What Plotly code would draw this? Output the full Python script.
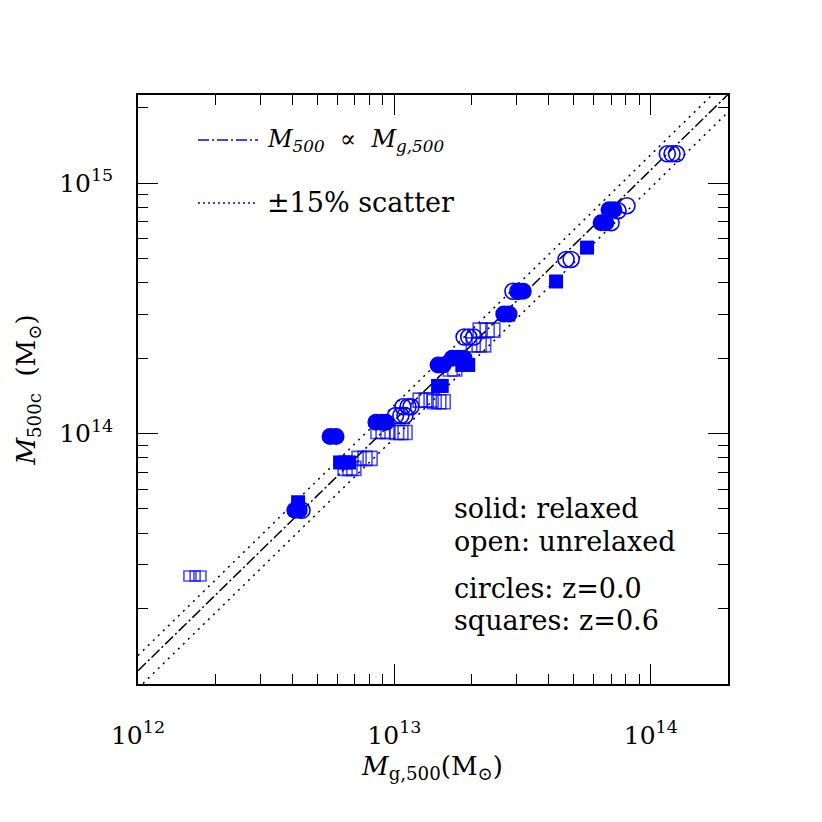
import plotly.graph_objects as go
import math

# ---------------- data ----------------
# relaxed, z=0 (filled circles)
fc_x = [4.09e12, 4.25e12, 5.61e12, 5.92e12, 8.47e12, 8.95e12, 9.28e12,
        1.48e13, 1.55e13, 1.68e13, 1.77e13, 1.87e13, 2.67e13, 2.80e13,
        3.06e13, 3.18e13, 6.40e13, 6.68e13, 6.87e13, 7.18e13]
fc_y = [4.94e13, 4.94e13, 9.73e13, 9.73e13, 1.11e14, 1.11e14, 1.11e14,
        1.88e14, 1.88e14, 2.0e14, 2.0e14, 2.0e14, 3.0e14, 3.0e14,
        3.70e14, 3.70e14, 6.95e14, 6.95e14, 7.83e14, 7.83e14]

# unrelaxed, z=0 (open circles)
oc_x = [4.36e12, 1.08e13, 1.13e13, 1.16e13, 1.01e13, 1.06e13, 1.10e13,
        1.87e13, 1.95e13, 2.04e13, 2.90e13, 3.03e13, 4.67e13, 4.89e13,
        7.0e13, 7.45e13, 8.07e13, 1.16e14, 1.21e14, 1.26e14]
oc_y = [4.94e13, 1.28e14, 1.28e14, 1.28e14, 1.18e14, 1.18e14, 1.18e14,
        2.43e14, 2.43e14, 2.43e14, 3.70e14, 3.70e14, 4.96e14, 4.96e14,
        6.95e14, 7.76e14, 8.13e14, 1.31e15, 1.31e15, 1.31e15]

# relaxed, z=0.6 (filled squares)
fs_x = [4.21e12, 6.14e12, 6.42e12, 6.65e12, 1.48e13, 1.53e13,
        1.84e13, 1.94e13, 4.27e13, 5.64e13]
fs_y = [5.32e13, 7.67e13, 7.67e13, 7.67e13, 1.55e14, 1.55e14,
        1.88e14, 1.88e14, 4.05e14, 5.53e14]

# unrelaxed, z=0.6 (open squares)
os_x = [1.58e12, 1.67e12, 1.76e12, 6.42e12, 6.71e12, 6.95e12,
        7.28e12, 7.68e12, 8.04e12, 8.63e12, 9.03e12, 9.44e12,
        1.02e13, 1.06e13, 1.10e13, 1.26e13, 1.33e13, 1.39e13,
        1.43e13, 1.49e13, 1.55e13, 1.65e13, 1.72e13,
        2.03e13, 2.14e13, 2.23e13, 2.16e13, 2.30e13, 2.42e13]
os_y = [2.70e13, 2.70e13, 2.70e13, 7.26e13, 7.26e13, 7.26e13,
        7.96e13, 7.96e13, 7.96e13, 1.02e14, 1.02e14, 1.02e14,
        1.01e14, 1.01e14, 1.01e14, 1.36e14, 1.36e14, 1.36e14,
        1.34e14, 1.34e14, 1.34e14, 1.81e14, 1.81e14,
        2.26e14, 2.26e14, 2.26e14, 2.59e14, 2.59e14, 2.59e14]

# relation M500 = RATIO * Mg,500 with +-15% scatter
RATIO = 11.3
SCATTER = 0.15

X_RANGE = [1e12, 2e14]
Y_RANGE = [1.0e13, 2.25e15]

x_major = [1e12, 1e13, 1e14]
x_major_text = ["10<sup>12</sup>", "10<sup>13</sup>", "10<sup>14</sup>"]
y_major = [1e14, 1e15]
y_major_text = ["10<sup>14</sup>", "10<sup>15</sup>"]

x_title = "<i>M</i><sub>g,500</sub>(M<sub>\u2299</sub>)"
y_title = "<i>M</i><sub>500c</sub>\u00a0\u00a0(M<sub>\u2299</sub>)"
legend_labels = ["<i>M</i><sub><i>500</i></sub>\u00a0\u00a0\u221d\u00a0\u00a0<i>M</i><sub><i>g,500</i></sub>",
                 "\u00b115% scatter"]
notes = ["solid: relaxed", "open: unrelaxed", "circles: z=0.0", "squares: z=0.6"]

# ---------------- figure ----------------
BLUE = "#0000ff"
FONT = "DejaVu Serif"


def minors(lo, hi):
    out = []
    d = 10 ** math.floor(math.log10(lo))
    while d <= hi:
        for k in range(2, 10):
            v = k * d
            if lo < v <= hi * 1.0001:
                out.append(v)
        d *= 10
    return out


fig = go.Figure()

lx = X_RANGE
fig.add_trace(go.Scatter(x=lx, y=[RATIO * v * (1 + SCATTER) for v in lx], mode="lines",
                         line=dict(color="black", width=1.5, dash="2px,5px"), showlegend=False))
fig.add_trace(go.Scatter(x=lx, y=[RATIO * v * (1 - SCATTER) for v in lx], mode="lines",
                         line=dict(color="black", width=1.5, dash="2px,5px"), showlegend=False))
fig.add_trace(go.Scatter(x=lx, y=[RATIO * v for v in lx], mode="lines",
                         line=dict(color="black", width=1.5, dash="11px,3px,2px,3px"), showlegend=False))

os_size = [10, 10, 10] + [14] * (len(os_x) - 3)
fig.add_trace(go.Scatter(x=os_x, y=os_y, mode="markers", showlegend=False,
                         marker=dict(symbol="square-open", size=os_size, color=BLUE,
                                     line=dict(width=1.6, color=BLUE))))
fig.add_trace(go.Scatter(x=fs_x, y=fs_y, mode="markers", showlegend=False,
                         marker=dict(symbol="square", size=14, color=BLUE,
                                     line=dict(width=0))))
fig.add_trace(go.Scatter(x=fc_x, y=fc_y, mode="markers", showlegend=False,
                         marker=dict(symbol="circle", size=17, color=BLUE,
                                     line=dict(width=0))))
fig.add_trace(go.Scatter(x=oc_x, y=oc_y, mode="markers", showlegend=False,
                         marker=dict(symbol="circle-open", size=16, color=BLUE,
                                     line=dict(width=1.6, color=BLUE))))

axis_common = dict(type="log", showgrid=False, zeroline=False, showline=True,
                   linecolor="black", linewidth=1.5, mirror="allticks",
                   ticks="inside", ticklen=20, tickwidth=1.2, tickcolor="black",
                   tickfont=dict(family=FONT, size=25, color="black"))

fig.update_xaxes(**axis_common, range=[math.log10(X_RANGE[0]), math.log10(X_RANGE[1])],
                 tickmode="array", tickvals=x_major, ticktext=x_major_text,
                 minor=dict(tickmode="array", tickvals=minors(*X_RANGE), ticks="inside",
                            ticklen=10, tickwidth=1.2, tickcolor="black", showgrid=False),
                 ticklabelstandoff=28)
fig.update_yaxes(**axis_common, range=[math.log10(Y_RANGE[0]), math.log10(Y_RANGE[1])],
                 tickmode="array", tickvals=y_major, ticktext=y_major_text,
                 minor=dict(tickmode="array", tickvals=minors(*Y_RANGE), ticks="inside",
                            ticklen=10, tickwidth=1.2, tickcolor="black", showgrid=False),
                 ticklabelstandoff=18,
                 title=dict(text=y_title, font=dict(family=FONT, size=26, color="black"), standoff=16))

# margins (page has an ~8px body offset)
L, R, T, B = 130, 102, 87, 146
W = 822 - L - R
H = 822 - T - B
OFF = 8


def px(x):
    return (x - OFF - L) / W


def py(y):
    return (822 - B - (y - OFF)) / H


# x-axis title
fig.add_annotation(text=x_title, xref="paper", yref="paper", x=px(432), y=py(767),
                   xanchor="center", yanchor="middle", showarrow=False,
                   font=dict(family=FONT, size=26, color="black"))

# legend samples
fig.add_shape(type="line", xref="paper", yref="paper", x0=px(198), x1=px(258), y0=py(140), y1=py(140),
              line=dict(color=BLUE, width=1.5, dash="11px,3px,2px,3px"))
fig.add_shape(type="line", xref="paper", yref="paper", x0=px(198), x1=px(258), y0=py(203), y1=py(203),
              line=dict(color=BLUE, width=1.5, dash="2px,3px"))
for lab, yy, fs in zip(legend_labels, [140, 203], [24, 27]):
    fig.add_annotation(text=lab, xref="paper", yref="paper", x=px(265), y=py(yy),
                       xanchor="left", yanchor="middle", showarrow=False,
                       font=dict(family=FONT, size=fs, color="black"))
for lab, yy in zip(notes, [508, 541, 588, 620]):
    fig.add_annotation(text=lab, xref="paper", yref="paper", x=px(452), y=py(yy),
                       xanchor="left", yanchor="middle", showarrow=False,
                       font=dict(family=FONT, size=27, color="black"))

fig.update_layout(width=822, height=822, margin=dict(l=L, r=R, t=T, b=B),
                  paper_bgcolor="white", plot_bgcolor="white", showlegend=False)

fig.write_html("out.html")
